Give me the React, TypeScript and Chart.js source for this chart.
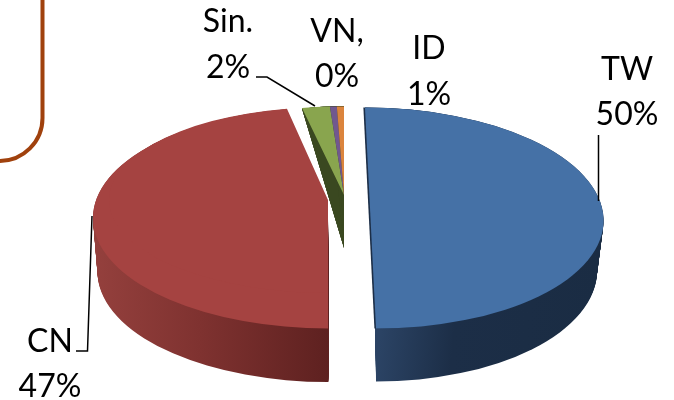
import React, { useEffect, useRef } from "react";
import { Chart, registerables } from "chart.js";

Chart.register(...registerables);

const categories = ["TW", "CN", "Sin.", "VN,", "ID"];
const shares = [50, 47, 2, 0.49, 0.51];
const topColors = ["#4571A6", "#A54341", "#89A54E", "#71588F", "#DB843D"];

// Where each category's text sits: [centre x, name baseline, percent baseline]
const labelSpots = [
  [627, 80, 125],
  [50, 352, 397],
  [228, 32, 78],
  [337, 42, 87],
  [429, 59, 105],
];
const leaders = [
  [[598.5, 135], [598.5, 201]],
  [[76, 351], [87.5, 351], [92, 216]],
  [[256, 77], [267, 77], [315, 106]],
];

type Face = { cx: number; cy: number; rx: number; ry: number; shear?: number };

const place = (ctx: CanvasRenderingContext2D, arc: any, f: Face) => {
  const sx = f.rx / arc.outerRadius;
  const sy = f.ry / arc.outerRadius;
  const sh = f.shear || 0;
  ctx.transform(sx, 0, sh * sy, sy, f.cx - sx * arc.x - sh * sy * arc.y, f.cy - sy * arc.y);
};

const paint = (ctx: CanvasRenderingContext2D, arc: any, f: Face, fill?: any) => {
  ctx.save();
  place(ctx, arc, f);
  const saved = arc.options;
  const paintFill = typeof fill === "function" ? fill(f) : fill;
  if (paintFill) arc.options = { ...saved, backgroundColor: paintFill };
  arc.draw(ctx);
  arc.options = saved;
  ctx.restore();
};

const mix = (a: Face, b: Face, t: number): Face => ({
  cx: a.cx + (b.cx - a.cx) * t,
  cy: a.cy + (b.cy - a.cy) * t,
  rx: a.rx + (b.rx - a.rx) * t,
  ry: a.ry + (b.ry - a.ry) * t,
  shear: (a.shear || 0) + ((b.shear || 0) - (a.shear || 0)) * t,
});

const sideGradient = (ctx: CanvasRenderingContext2D, arc: any, stops: [number, string][]) => (f: Face) => {
  const toLocal = (X: number) => arc.x + ((X - f.cx) * arc.outerRadius) / f.rx;
  const x0 = stops[0][0];
  const x1 = stops[stops.length - 1][0];
  const g = ctx.createLinearGradient(toLocal(x0), 0, toLocal(x1), 0);
  stops.forEach(([x, c]) => g.addColorStop((x - x0) / (x1 - x0), c));
  return g;
};

const extrude = (ctx: CanvasRenderingContext2D, arc: any, a: Face, b: Face, fill: any) => {
  for (let i = 54; i >= 0; i--) paint(ctx, arc, mix(a, b, i / 54), fill);
};

const pie3d = {
  id: "pie3d",
  beforeDatasetsDraw(chart: any) {
    const ctx: CanvasRenderingContext2D = chart.ctx;
    const [tw, cn, sin, vn, id] = chart.getDatasetMeta(0).data;

    // small slices
    const smallTop: Face = { cx: 344, cy: 195, rx: 224, ry: 88.6 };
    const smallWedge: Face = { cx: 344, cy: 248, rx: 224, ry: 141.8 };
    for (let pass = 0; pass < 4; pass++) {
      [sin, vn, id].forEach((a: any) => paint(ctx, a, smallWedge, "#3A4820"));
    }
    [sin, vn, id].forEach((a: any) => paint(ctx, a, smallTop));

    // TW
    const twTop: Face = { cx: 370.5, cy: 218, rx: 233, ry: 110.5, shear: 0.05 };
    const twBottom: Face = { cx: 376, cy: 271, rx: 221, ry: 110.5, shear: 0 };
    extrude(ctx, tw, twTop, twBottom, sideGradient(ctx, tw, [[376, "#2B4364"], [450, "#1C2E47"], [600, "#1A2C43"]]));
    paint(ctx, tw, { ...twTop, cx: twTop.cx - 1.6 }, "#1C2E47");
    paint(ctx, tw, twTop);

    // CN
    const cnTop: Face = { cx: 328, cy: 218, rx: 235, ry: 110.5 };
    const cnBottom: Face = { cx: 328.5, cy: 272, rx: 231, ry: 110 };
    extrude(ctx, cn, cnTop, cnBottom, sideGradient(ctx, cn, [[95, "#94403D"], [200, "#7F3230"], [328, "#5E2120"]]));
    paint(ctx, cn, cnTop);
    paint(ctx, cn, { cx: 328, cy: 200, rx: 219, ry: 93 });
    return false;
  },
  afterDraw(chart: any) {
    const ctx: CanvasRenderingContext2D = chart.ctx;
    const total = shares.reduce((s, v) => s + v, 0);
    ctx.save();
    // rounded call-out box cut by the page's corner
    ctx.strokeStyle = "#A0410D";
    ctx.lineWidth = 4;
    ctx.beginPath();
    ctx.moveTo(42.5, -5);
    ctx.lineTo(42.5, 118);
    ctx.arcTo(42.5, 161, 0, 161, 43);
    ctx.lineTo(-5, 161);
    ctx.stroke();

    ctx.strokeStyle = "#000";
    ctx.lineWidth = 1.5;
    leaders.forEach((pts) => {
      ctx.beginPath();
      pts.forEach(([x, y], i) => (i ? ctx.lineTo(x, y) : ctx.moveTo(x, y)));
      ctx.stroke();
    });

    ctx.fillStyle = "#000";
    ctx.font = "32px Lato";
    ctx.textAlign = "center";
    ctx.textBaseline = "alphabetic";
    categories.forEach((name, i) => {
      const [x, y1, y2] = labelSpots[i];
      ctx.fillText(name, x, y1);
      ctx.fillText(`${Math.round((shares[i] / total) * 100)}%`, x, y2);
    });
    ctx.restore();
  },
};

export default function App() {
  const ref = useRef<HTMLCanvasElement>(null);
  useEffect(() => {
    const chart = new Chart(ref.current as HTMLCanvasElement, {
      type: "pie",
      data: {
        labels: categories,
        datasets: [{ data: shares, backgroundColor: topColors, borderWidth: 0 }],
      },
      options: {
        responsive: false,
        animation: false,
        rotation: 0,
        plugins: { legend: { display: false }, tooltip: { enabled: false } },
      },
      plugins: [pie3d],
    } as any);
    return () => chart.destroy();
  }, []);
  return (
    <canvas
      ref={ref}
      width={674}
      height={400}
      style={{ position: "absolute", left: 0, top: 0, width: 674, height: 400, display: "block" }}
    />
  );
}
